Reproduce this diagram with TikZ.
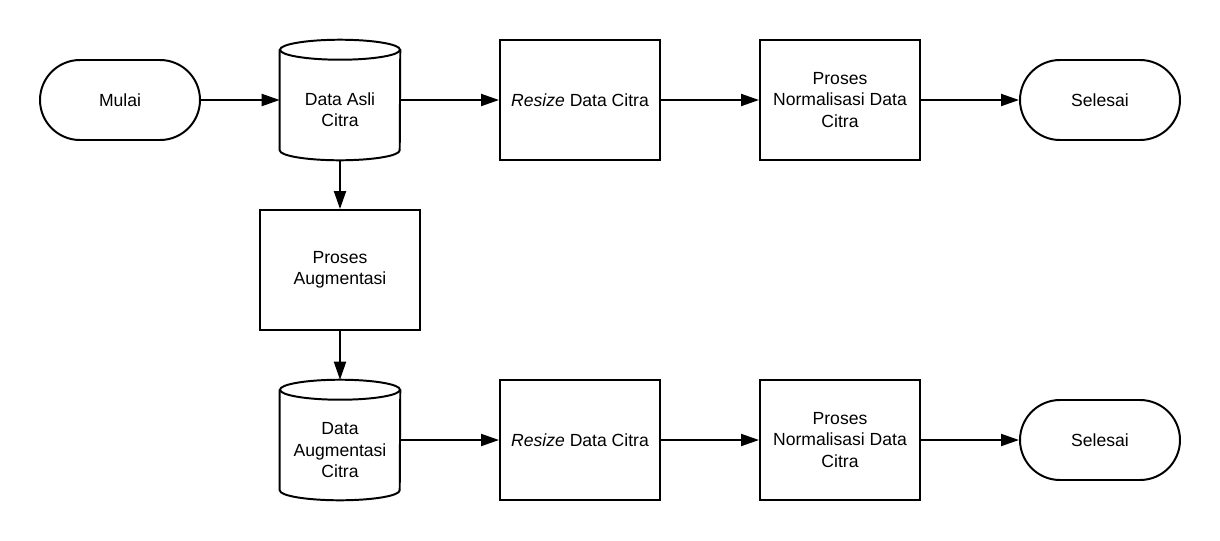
\documentclass[tikz,border=0pt]{standalone}
\usepackage{fontspec}
\setmainfont{Liberation Sans}
\usetikzlibrary{arrows.meta}

\tikzstyle{termNode} = [rectangle, rounded corners=1cm, minimum width=4cm, minimum height=2cm, text centered, draw=black, line width=1.4pt]
\tikzstyle{dbNode} = [rectangle, minimum width=3cm, minimum height=3cm, text centered, align=center]
\tikzstyle{procNode} = [rectangle, minimum width=4cm, minimum height=3cm, text centered, draw=black, line width=1.4pt, align=center]
\tikzstyle{arrow} = [line width=1.4pt, -{Triangle[length=4.5mm, width=3mm]}]

% cylinder drawn round a dbNode
\newcommand{\dbShape}[1]{%
  \draw[line width=1.4pt] ([yshift=-0.25cm]#1.north west) -- ([yshift=0.25cm]#1.south west)
    arc[start angle=180, end angle=360, x radius=1.5cm, y radius=0.25cm]
    -- ([yshift=-0.25cm]#1.north east);
  \draw[line width=1.4pt] ([yshift=-0.25cm]#1.north) ellipse [x radius=1.5cm, y radius=0.25cm];
}
\newcommand{\dbGap}{\rule{0pt}{23pt}}

\begin{document}
\begin{tikzpicture}[node distance=6.5cm, font=\fontsize{12.5pt}{15.3pt}\selectfont]
    \useasboundingbox (0,0) rectangle (30.5,-13.5);
    \node (mulai)[termNode] at (3,-2.5) {Mulai};
    \node (dataAsli)[dbNode, right of=mulai, xshift=-1cm] {\dbGap Data Asli \\ Citra};
    \node (resizeA)[procNode, right of=dataAsli, xshift=-0.5cm] {\textit{Resize} Data Citra};
    \node (normA)[procNode, right of=resizeA] {Proses \\ Normalisasi Data \\ Citra};
    \node (selesaiA)[termNode, right of=normA] {Selesai};
    \node (augmentasi)[procNode, below of=dataAsli, yshift=2.25cm] {Proses \\ Augmentasi};
    \node (dataAug)[dbNode, below of=augmentasi, yshift=2.25cm] {\dbGap Data \\ Augmentasi \\ Citra};
    \node (resizeB)[procNode, right of=dataAug, xshift=-0.5cm] {\textit{Resize} Data Citra};
    \node (normB)[procNode, right of=resizeB] {Proses \\ Normalisasi Data \\ Citra};
    \node (selesaiB)[termNode, right of=normB] {Selesai};

    \dbShape{dataAsli}
    \dbShape{dataAug}

    \draw [arrow] (mulai) -- (dataAsli);
    \draw [arrow] (dataAsli) -- (resizeA);
    \draw [arrow] (resizeA) -- (normA);
    \draw [arrow] (normA) -- (selesaiA);
    \draw [arrow] (dataAsli) -- (augmentasi);
    \draw [arrow] (augmentasi) -- (dataAug);
    \draw [arrow] (dataAug) -- (resizeB);
    \draw [arrow] (resizeB) -- (normB);
    \draw [arrow] (normB) -- (selesaiB);

\end{tikzpicture}
\end{document}
